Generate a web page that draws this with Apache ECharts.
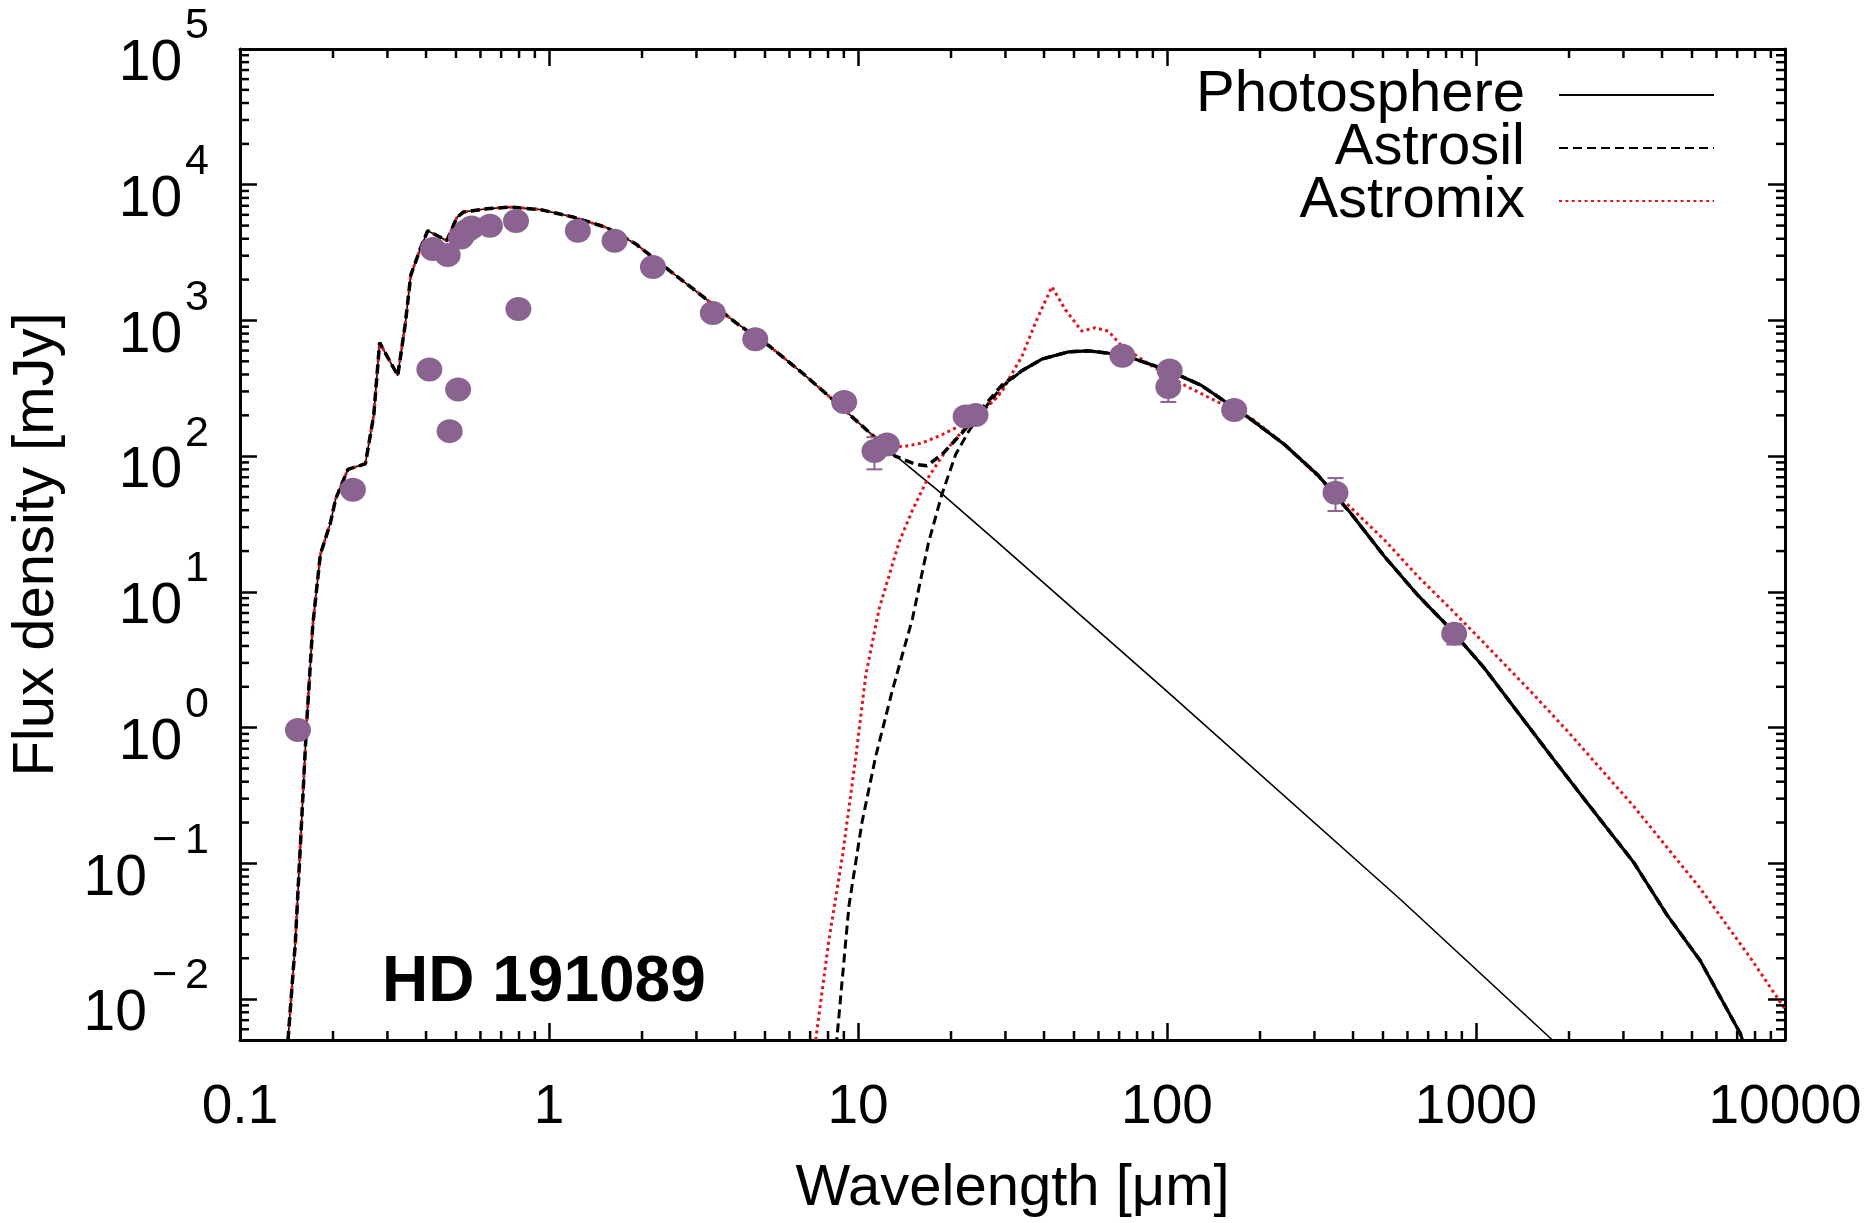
<!DOCTYPE html>
<html><head><meta charset="utf-8">
<script src="https://cdn.jsdelivr.net/npm/echarts@6/dist/echarts.min.js"></script>
<style>html,body{margin:0;padding:0;background:#fff}#c{width:1873px;height:1223px}</style>
</head><body><div id="c"></div>
<script>
// ---- data (wavelength in micron, flux density in mJy) ----
const photosphere = [
  [0.143,0.005],[0.151,0.026],[0.158,0.19],[0.164,1.0],[0.172,5.7],[0.182,18.9],[0.196,32],
  [0.204,48.5],[0.2235,80],[0.2546,88],[0.271,201],[0.283,687],[0.324,393],[0.343,959],
  [0.357,2157],[0.383,3365],[0.405,4580],[0.467,3870],[0.503,5720],[0.528,6290],[0.628,6650],
  [0.748,6840],[0.935,6570],[1.197,5780],[1.535,4840],[1.91,3660],[2.45,2340],[3.15,1500],
  [4.03,959],[5.16,649],[6.61,410],[8.47,250],[11.7,129],[13.9,92],[18.7,52.7],[28.5,22.9],
  [100,1.85],[571,0.054],[1766,0.005]
];
const astrosilTotalTail = [
  [13.2,100],[15.4,87],[16.7,85],[18.7,103],[21.7,148],[25.2,225],[29.2,333],[34,428],[39.4,520],
  [48,587],[55.7,597],[64.6,574],[78.7,520],[101,428],[129,333],[166,225],[188,185],[240,122],
  [308,72.5],[394,37.8],[505,18.3],[647,9.5],[829,5.3],[1062,2.76],[1766,0.6],
  [2291,0.279],[3236,0.102],[4150,0.0418],[5320,0.0192],[7160,0.0056],[7400,0.0045]
];
const astrosilDustRise = [
  [8.5,0.0045],[9.35,0.049],[10.3,0.2],[11.4,0.61],[12.9,1.86],[15.0,6.34],[16.9,22.9],[18.7,52.7],
  [20.7,103],[22.8,152],[25.2,213],[29.2,325],[34,428]
];
const astrosilDustFar = [
  [34,428],[39.4,520],[48,587],[55.7,597],[64.6,574],[78.7,520],[101,428],[129,333],[166,225],
  [188,185],[240,122],[308,72.5],[394,37.8],[505,18.3],[647,9.5],[829,5.3],[1062,2.76],[1766,0.6],
  [2291,0.279],[3236,0.102],[4150,0.0418],[5320,0.0192],[7160,0.0056],[7400,0.0045]
];
const astromixTotalTail = [
  [13.9,117],[16.1,125],[18.7,144],[21.2,166],[25.2,213],[27.9,266],[30.8,372],[34,550],[37.5,960],
  [42.4,1773],[46.9,1200],[53,835],[58.5,883],[64.6,835],[71.3,649],[89.1,464],[114,333],[146,251],
  [188,190],[240,122],[351,53.7],[505,24.2],[647,13.1],[829,7.48],[1062,4.2],[1503,1.85],
  [1972,0.95],[3236,0.264],[5320,0.0654],[7710,0.0203],[9890,0.00877],[10000,0.0085]
];
const astromixDust = [
  [7.25,0.0045],[8.07,0.0283],[8.91,0.114],[9.84,0.61],[10.6,2.45],[11.7,7.48],[13.6,23.5],
  [15.0,40],[16.9,70],[19.2,109],[21.7,152],[24,190],[26.5,238],[29.2,297],[30.8,372]
];
const observed = [
  [0.154,0.96],[0.232,56.7],[0.41,435],[0.421,3365],[0.470,3040],[0.477,153],[0.508,310],
  [0.519,4090],[0.542,4580],[0.562,4840],[0.644,4980],[0.782,5410],[0.796,1213],[1.24,4580],
  [1.63,3870],[2.17,2475],[3.39,1134],[4.65,726],[9.02,251],[11.3,109],[12.4,122],[22.3,196],
  [24.0,201],[71.7,550],[102,428],[101,324],[165,219],[351,53.7],[850,4.93]
];
const errWl   = [11.3, 101, 351, 850];
const errLow  = [80, 251, 39.5, 4.1];
const errHigh = [138, 397, 69, 5.8];
const xTickLabels = ['0.1','1','10','100','1000','10000'];
const X_MIN = 0.1, X_MAX = 10000, Y_MIN = 0.005, Y_MAX = 100000;

// photosphere values up to where the dust starts to matter, shared by the model totals
const shortPart = photosphere.filter(p => p[0] <= 11.7);
const astrosilTotal = shortPart.concat(astrosilTotalTail);
const astromixTotal = shortPart.concat(astromixTotalTail);

// minor tick values (2..9 within each decade)
const xMinor = [], yMinor = [];
for (let e = -1; e < 4; e++) for (let m = 2; m <= 9; m++) xMinor.push(m * Math.pow(10, e));
for (let e = -3; e < 5; e++) for (let m = 2; m <= 9; m++) { const v = m * Math.pow(10, e); if (v > Y_MIN && v < Y_MAX) yMinor.push(v); }

const FONT = "'Liberation Sans', Arial, Helvetica, sans-serif";
const PURPLE = '#8a6390';
const RED = '#e0161b';
const chart = echarts.init(document.getElementById('c'), null, {renderer: 'canvas'});

function minorX(params, api) {
  const v = api.value(0);
  const b = api.coord([v, Y_MIN]), t = api.coord([v, Y_MAX]);
  return {type: 'group', children: [
    {type: 'line', shape: {x1: b[0], y1: b[1], x2: b[0], y2: b[1] - 9}, style: {stroke: '#000', lineWidth: 2.5}},
    {type: 'line', shape: {x1: t[0], y1: t[1], x2: t[0], y2: t[1] + 9}, style: {stroke: '#000', lineWidth: 2.5}}
  ]};
}
function minorY(params, api) {
  const v = api.value(1);
  const l = api.coord([X_MIN, v]), r = api.coord([X_MAX, v]);
  return {type: 'group', children: [
    {type: 'line', shape: {x1: l[0], y1: l[1], x2: l[0] + 9, y2: l[1]}, style: {stroke: '#000', lineWidth: 2.5}},
    {type: 'line', shape: {x1: r[0], y1: r[1], x2: r[0] - 9, y2: r[1]}, style: {stroke: '#000', lineWidth: 2.5}}
  ]};
}
function errBar(params, api) {
  const lo = api.coord([api.value(0), api.value(1)]);
  const hi = api.coord([api.value(0), api.value(2)]);
  const w = 8;
  const st = {stroke: PURPLE, lineWidth: 2};
  return {type: 'group', children: [
    {type: 'line', shape: {x1: lo[0], y1: lo[1], x2: hi[0], y2: hi[1]}, style: st},
    {type: 'line', shape: {x1: lo[0] - w, y1: lo[1], x2: lo[0] + w, y2: lo[1]}, style: st},
    {type: 'line', shape: {x1: hi[0] - w, y1: hi[1], x2: hi[0] + w, y2: hi[1]}, style: st}
  ]};
}

const axisCommon = {
  type: 'log', logBase: 10,
  axisLine: {show: true, lineStyle: {color: '#000', width: 3}},
  axisTick: {show: true, inside: true, length: 17, lineStyle: {color: '#000', width: 2.5}},
  splitLine: {show: false}, minorTick: {show: false}
};
const xLabel = {
  show: true, fontSize: 55, fontFamily: FONT, color: '#000', margin: 40,
  formatter: v => { const e = Math.round(Math.log10(v)); return xTickLabels[e + 1] || ''; }
};
const yLabel = {
  show: true, margin: 31, fontFamily: FONT, color: '#000',
  formatter: v => {
    const l = Math.log10(v), r = Math.round(l);
    if (Math.abs(l - r) > 1e-6) return '';
    return r < 0 ? '{b|10}{m|\u2212}{s|' + (-r) + '}' : '{b|10}{s|' + r + '}';
  },
  rich: {
    b: {fontSize: 57, fontFamily: FONT, color: '#000', lineHeight: 88, verticalAlign: 'bottom'},
    m: {fontSize: 43, fontFamily: FONT, color: '#000', lineHeight: 44, verticalAlign: 'top', padding: [0, 5, 0, 5]},
    s: {fontSize: 43, fontFamily: FONT, color: '#000', lineHeight: 44, verticalAlign: 'top', padding: [0, 0, 0, 3]}
  }
};

const lineBase = {type: 'line', showSymbol: false, symbol: 'none', smooth: false, animation: false, clip: true};

chart.setOption({
  animation: false,
  backgroundColor: '#fff',
  grid: {left: 236, right: 88, top: 49, bottom: 170, containLabel: false},
  legend: {
    orient: 'vertical', align: 'right', right: 153, top: 61,
    itemWidth: 155, itemHeight: 2, itemGap: -5,
    data: ['Photosphere', 'Astrosil', 'Astromix'],
    itemStyle: {opacity: 0},
    textStyle: {fontSize: 58, fontFamily: FONT, color: '#000', lineHeight: 49.5, padding: [0, 29, 0, 0]},
    selectedMode: false
  },
  xAxis: [
    Object.assign({}, axisCommon, {min: X_MIN, max: X_MAX, position: 'bottom', axisLabel: xLabel,
      name: 'Wavelength [\u03bcm]', nameLocation: 'middle', nameGap: 120,
      nameTextStyle: {fontSize: 58, fontFamily: FONT, color: '#000'}}),
    Object.assign({}, axisCommon, {min: X_MIN, max: X_MAX, position: 'top', axisLabel: {show: false}})
  ],
  yAxis: [
    Object.assign({}, axisCommon, {min: Y_MIN, max: Y_MAX, position: 'left', splitNumber: 8, axisLabel: yLabel,
      name: 'Flux density [mJy]', nameLocation: 'middle', nameGap: 174,
      nameTextStyle: {fontSize: 58, fontFamily: FONT, color: '#000'}}),
    Object.assign({}, axisCommon, {min: Y_MIN, max: Y_MAX, position: 'right', splitNumber: 8, axisLabel: {show: false}})
  ],
  graphic: [{
    type: 'text', left: 382, top: 951,
    style: {text: 'HD 191089', font: 'bold 64px ' + FONT, fill: '#000'}
  }],
  series: [
    Object.assign({}, lineBase, {name: 'Photosphere', data: photosphere, z: 3,
      lineStyle: {color: '#000', width: 1.6}, itemStyle: {color: '#000'}}),
    Object.assign({}, lineBase, {name: 'Astromix', data: astromixTotal, z: 4,
      lineStyle: {color: RED, width: 3, type: [3, 3.4]}, itemStyle: {color: RED}}),
    Object.assign({}, lineBase, {name: 'Astromix', data: astromixDust, z: 4,
      lineStyle: {color: RED, width: 3, type: [3, 3.4]}, itemStyle: {color: RED}}),
    Object.assign({}, lineBase, {name: 'Astrosil', data: astrosilTotal, z: 5,
      lineStyle: {color: '#000', width: 3.5, type: [9, 5]}, itemStyle: {color: '#000'}}),
    Object.assign({}, lineBase, {name: 'Astrosil', data: astrosilDustRise, z: 5,
      lineStyle: {color: '#000', width: 3, type: [9, 5]}, itemStyle: {color: '#000'}}),
    Object.assign({}, lineBase, {name: 'Astrosil', data: astrosilDustFar, z: 5,
      lineStyle: {color: '#000', width: 3.2}, itemStyle: {color: '#000'}}),
    {type: 'custom', name: 'errors', renderItem: errBar, z: 6, silent: true,
      data: errWl.map((w, i) => [w, errLow[i], errHigh[i]]), encode: {x: 0, y: [1, 2]}},
    {type: 'scatter', name: 'Observed', data: observed, z: 7, symbol: 'circle', symbolSize: [26, 24],
      itemStyle: {color: PURPLE, opacity: 1}, silent: true},
    {type: 'custom', name: 'xminor', renderItem: minorX, z: 8, silent: true,
      data: xMinor.map(v => [v, Y_MIN])},
    {type: 'custom', name: 'yminor', renderItem: minorY, z: 8, silent: true,
      data: yMinor.map(v => [X_MIN, v])}
  ]
});
</script>
</body></html>
